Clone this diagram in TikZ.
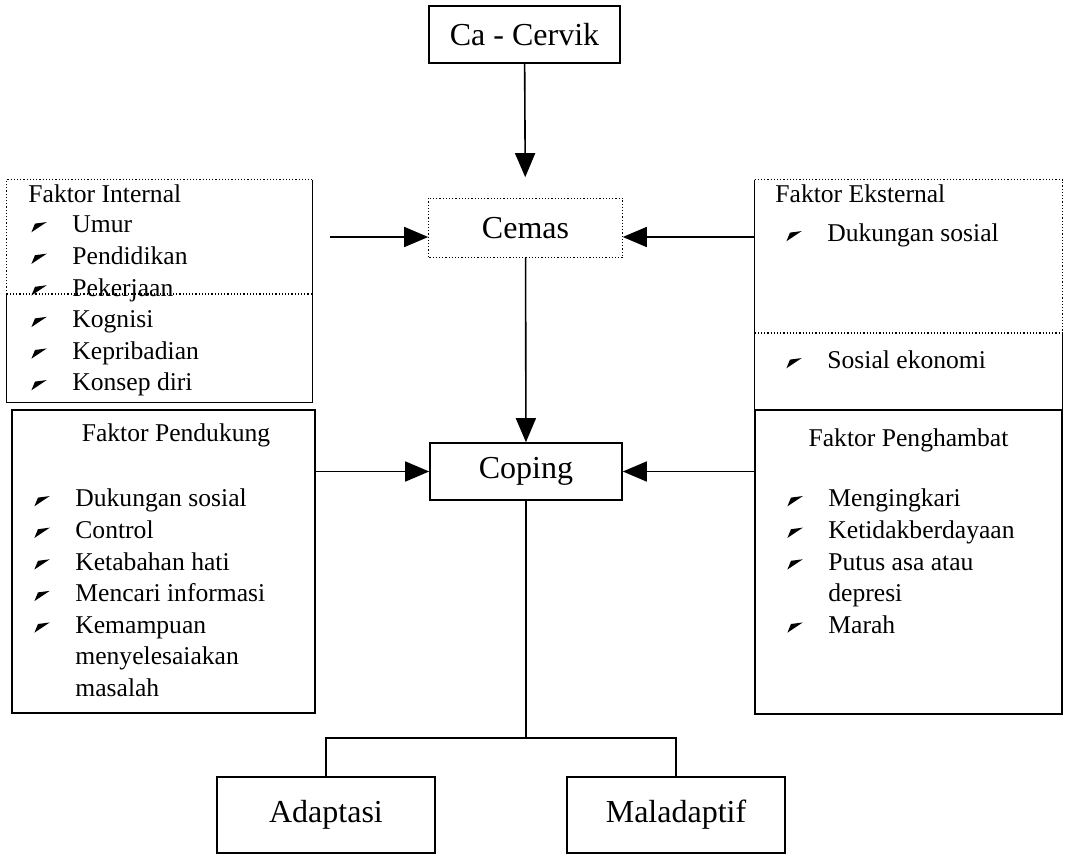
\documentclass[tikz,border=0pt]{standalone}
\usepackage{fontspec}
\setmainfont{Liberation Serif}
\usetikzlibrary{arrows.meta}

\newcommand{\bul}{\tikz[baseline=0pt]\fill (0,0.02em) -- (0.6em,0.42em) -- (0.14em,0.36em) -- cycle;}
\newcommand{\butir}[1]{\strut\makebox[20.5pt][l]{\bul}#1}
\newcommand{\lanjut}[1]{\strut\hspace{20.5pt}#1}

\begin{document}
\begin{tikzpicture}[x=0.5pt, y=-0.5pt,
    box/.style={draw, line width=0.8pt, inner sep=0pt, font=\fontsize{16}{19}\selectfont},
    panel/.style={inner sep=0pt},
    judul/.style={inner sep=0pt, anchor=base west, font=\fontsize{12.8}{15.8}\selectfont},
    daftar/.style={inner sep=0pt, anchor=north west, align=left, font=\fontsize{12.8}{15.8}\selectfont},
    dotline/.style={densely dotted, line width=0.6pt},
    arr/.style={-{Triangle[length=12pt,width=10pt]}, line width=0.8pt}]
    \useasboundingbox (0, 0) rectangle (1065, 855);

    % centre column
    \node[box, minimum width=95.5pt, minimum height=28.5pt] (cervik) at (524.5, 34.5) {Ca - Cervik};
    \node[box, draw=none, minimum width=96.5pt, minimum height=29pt] (cemas) at (525.5, 228) {Cemas};
    \draw[dotline] (cemas.north west) rectangle (cemas.south east);
    \node[box, minimum width=96pt, minimum height=28.5pt] (coping) at (526, 471.5) {Coping};
    \node[box, minimum width=109pt, minimum height=38pt] (adaptasi) at (326, 815) {Adaptasi};
    \node[box, minimum width=109pt, minimum height=38pt] (maladaptif) at (676, 815) {Maladaptif};

    % side panels
    \node[panel, minimum width=152.5pt, minimum height=111pt] (internal) at (159.5, 291) {};
    \node[panel, minimum width=153.5pt, minimum height=115pt] (eksternal) at (908.5, 295) {};
    \node[panel, draw, line width=0.8pt, minimum width=151.5pt, minimum height=151.5pt] (pendukung) at (163.5, 561.5) {};
    \node[panel, draw, line width=0.8pt, minimum width=153.5pt, minimum height=152pt] (penghambat) at (908.5, 562) {};

    \coordinate (sepI) at (0, 294);
    \coordinate (sepE) at (0, 333);
    \draw[dotline] (internal.west |- sepI) |- (internal.north east);
    \draw[dotline] (internal.west |- sepI) -- (internal.east |- sepI);
    \draw[line width=0.8pt] (internal.north east) |- (internal.south west) -- (internal.west |- sepI);
    \draw[dotline] (eksternal.north west) -| (eksternal.east |- sepE);
    \draw[dotline] (eksternal.west |- sepE) -- (eksternal.east |- sepE);
    \draw[line width=0.8pt] (eksternal.east |- sepE) |- (eksternal.south west) -- (eksternal.north west);

    % panel texts
    \node[judul] (tInternal) at (28, 203) {Faktor Internal};
    \node[daftar] (lInternal) at (31, 210.3) {\butir{Umur}\\ \butir{Pendidikan}\\ \butir{Pekerjaan}\\
        \butir{Kognisi}\\ \butir{Kepribadian}\\ \butir{Konsep diri}};
    \node[judul] (tEksternal) at (775, 203) {Faktor Eksternal};
    \node[daftar] (lSosial) at (786, 219.3) {\butir{Dukungan sosial}};
    \node[daftar] (lEkonomi) at (786, 346.3) {\butir{Sosial ekonomi}};
    \node[judul, anchor=base] (tPendukung) at (176, 441) {Faktor Pendukung};
    \node[daftar] (lPendukung) at (34, 484.3) {\butir{Dukungan sosial}\\ \butir{Control}\\ \butir{Ketabahan hati}\\
        \butir{Mencari informasi}\\ \butir{Kemampuan}\\ \lanjut{menyelesaiakan}\\ \lanjut{masalah}};
    \node[judul, anchor=base] (tPenghambat) at (908.5, 446) {Faktor Penghambat};
    \node[daftar] (lPenghambat) at (787, 484.3) {\butir{Mengingkari}\\ \butir{Ketidakberdayaan}\\
        \butir{Putus asa atau}\\ \lanjut{depresi}\\ \butir{Marah}};

    % connectors
    \coordinate (inA) at (330, 237);
    \coordinate (split) at (526, 738);
    \draw[arr, shorten >=10.5pt] (cervik) -- (cemas);
    \draw[arr] (cemas) -- (coping);
    \draw[arr] (inA) -- (inA -| cemas.west);
    \draw[arr] (eksternal.west |- inA) -- (inA -| cemas.east);
    \draw[arr] (pendukung.east |- coping.west) -- (coping.west);
    \draw[arr] (penghambat.west |- coping.east) -- (coping.east);
    \draw[line width=0.8pt] (coping) -- (split);
    \draw[line width=0.8pt] (adaptasi) |- (split) -| (maladaptif);
\end{tikzpicture}
\end{document}
